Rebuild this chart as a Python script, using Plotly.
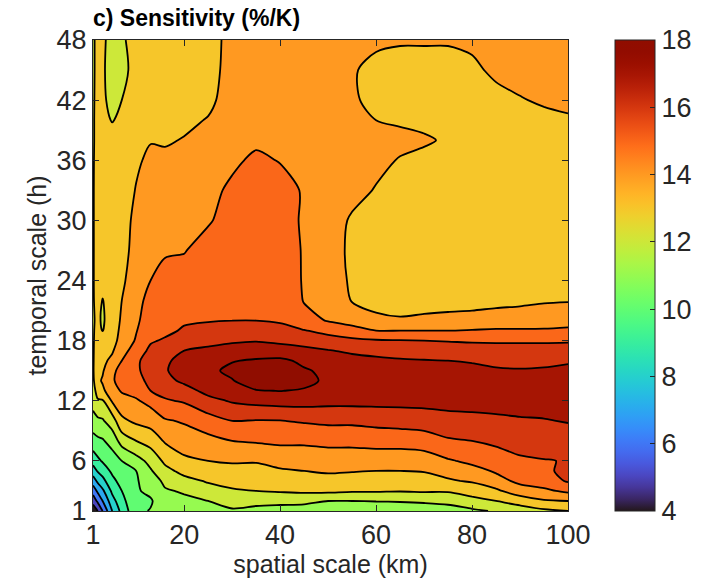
import numpy as np
import plotly.graph_objects as go

# spatial scale (km) columns and temporal scale (h) rows
spatial_km = [1, 2, 3, 5, 7, 10, 13, 16, 20, 25, 30, 35, 40, 45, 50, 55, 60, 65, 70, 75, 80, 85, 90, 95, 100]
temporal_h = [1, 2, 3, 4, 5, 6, 8, 10, 12, 13, 14, 15, 16, 17, 18, 19, 20, 22, 24, 27, 30, 33, 36, 38, 40, 42, 45, 48]

# sensitivity (%/K), one list per spatial scale (values along temporal_h)
sens_by_km = [
    [4.3, 5.4, 6.4, 7.5, 8.5, 9.4, 10.6, 11.6, 12.4, 12.6, 12.8, 12.9, 12.9, 12.9, 12.9, 12.9, 12.9, 12.9, 12.9, 12.9, 12.9, 12.9, 12.9, 12.9, 12.9, 12.9, 12.9, 12.9],
    [5.0, 6.2, 7.2, 8.2, 9.1, 9.8, 10.8, 11.8, 12.9, 13.4, 13.8, 13.7, 13.6, 13.5, 13.4, 13.3, 13.2, 13.4, 13.5, 13.5, 13.5, 13.5, 13.4, 13.3, 13.3, 13.25, 13.2, 13.2],
    [6.0, 7.0, 7.8, 8.7, 9.4, 10.1, 10.9, 11.9, 12.9, 13.8, 14.1, 13.9, 13.8, 13.6, 13.4, 12.97, 12.85, 12.95, 13.4, 13.6, 13.6, 13.6, 13.5, 13.4, 13.25, 13.15, 13.1, 13.1],
    [8.0, 8.6, 9.2, 9.7, 10.2, 10.5, 11.4, 12.5, 14.1, 14.6, 14.9, 14.8, 14.2, 13.9, 13.7, 13.6, 13.6, 13.6, 13.6, 13.7, 13.7, 13.7, 13.6, 13.4, 12.95, 12.75, 12.7, 12.8],
    [9.3, 9.7, 10.0, 10.4, 10.7, 11.0, 12.4, 13.8, 14.6, 15.1, 15.3, 15.3, 15.0, 14.6, 14.3, 14.2, 14.1, 14.0, 13.8, 13.6, 13.5, 13.5, 13.4, 13.3, 13.2, 13.0, 12.75, 12.85],
    [10.8, 10.8, 10.9, 10.9, 11.0, 11.6, 13.0, 14.2, 14.9, 15.3, 15.6, 15.8, 15.8, 15.5, 15.1, 14.95, 14.8, 14.7, 14.6, 14.4, 14.3, 14.05, 13.85, 13.6, 13.6, 13.5, 13.3, 13.4],
    [11.05, 10.9, 11.2, 11.5, 11.9, 12.3, 13.4, 14.4, 15.3, 16.0, 16.3, 16.5, 16.5, 16.2, 15.9, 15.7, 15.6, 15.3, 15.0, 14.7, 14.6, 14.5, 14.2, 13.95, 13.7, 13.6, 13.6, 13.6],
    [11.3, 11.6, 11.9, 12.2, 12.7, 13.2, 14.1, 14.9, 15.9, 16.3, 16.7, 16.9, 16.8, 16.6, 16.1, 15.8, 15.7, 15.5, 15.3, 14.9, 14.6, 14.5, 14.2, 13.9, 13.7, 13.6, 13.6, 13.6],
    [11.6, 11.8, 12.1, 12.7, 13.3, 13.8, 14.5, 15.1, 16.1, 16.6, 17.2, 17.5, 17.4, 17.0, 16.5, 16.1, 15.9, 15.7, 15.4, 14.95, 14.7, 14.6, 14.3, 14.05, 13.8, 13.7, 13.6, 13.6],
    [11.8, 12.0, 12.6, 13.1, 13.5, 14.0, 14.7, 15.6, 16.7, 17.3, 17.7, 17.8, 17.8, 17.2, 16.7, 16.3, 15.95, 15.7, 15.6, 15.4, 14.9, 14.7, 14.5, 14.3, 14.05, 13.8, 13.7, 13.75],
    [11.9, 12.3, 12.9, 13.3, 13.7, 14.1, 15.0, 16.0, 17.1, 17.6, 17.95, 18.2, 17.95, 17.3, 16.9, 16.4, 16.0, 15.8, 15.7, 15.6, 15.4, 15.2, 14.8, 14.7, 14.6, 14.4, 14.3, 14.2],
    [11.8, 12.2, 13.0, 13.3, 13.6, 14.1, 15.1, 15.95, 17.3, 17.95, 18.5, 18.7, 18.1, 17.5, 16.95, 16.5, 16.0, 15.9, 15.8, 15.7, 15.6, 15.5, 15.2, 14.8, 14.6, 14.5, 14.4, 14.3],
    [11.7, 12.2, 13.1, 13.5, 13.9, 14.3, 15.2, 15.97, 17.4, 18.02, 18.6, 18.8, 18.2, 17.4, 16.8, 16.3, 15.9, 15.8, 15.7, 15.6, 15.5, 15.4, 14.95, 14.7, 14.6, 14.5, 14.4, 14.3],
    [11.6, 12.2, 13.2, 13.6, 14.0, 14.3, 15.2, 16.1, 17.4, 17.9, 18.3, 18.1, 17.8, 17.2, 16.7, 16.05, 15.3, 14.95, 14.9, 14.9, 14.85, 14.9, 14.6, 14.6, 14.5, 14.5, 14.5, 14.4],
    [11.5, 12.0, 13.2, 13.7, 14.1, 14.4, 15.3, 16.2, 17.3, 17.6, 17.8, 17.8, 17.5, 17.05, 16.4, 15.7, 14.95, 14.7, 14.55, 14.45, 14.4, 14.45, 14.5, 14.5, 14.5, 14.5, 14.5, 14.4],
    [11.2, 12.0, 13.1, 13.6, 14.05, 14.4, 15.3, 16.2, 17.3, 17.5, 17.6, 17.5, 17.3, 16.85, 16.2, 15.4, 14.6, 13.95, 13.85, 13.8, 13.9, 14.25, 14.4, 14.5, 14.5, 14.15, 14.1, 14.3],
    [11.1, 12.05, 13.1, 13.6, 14.0, 14.4, 15.4, 16.3, 17.3, 17.5, 17.5, 17.4, 17.2, 16.7, 16.1, 15.0, 14.2, 13.7, 13.6, 13.6, 13.7, 13.95, 14.2, 14.3, 14.0, 13.7, 13.7, 14.2],
    [11.1, 12.1, 13.05, 13.6, 14.0, 14.4, 15.4, 16.4, 17.3, 17.5, 17.5, 17.4, 17.1, 16.6, 16.05, 15.0, 14.1, 13.6, 13.5, 13.5, 13.5, 13.6, 13.95, 14.2, 13.9, 13.6, 13.6, 14.1],
    [11.2, 12.2, 13.1, 13.6, 14.05, 14.5, 15.5, 16.5, 17.3, 17.5, 17.5, 17.4, 17.05, 16.5, 16.0, 15.0, 14.2, 13.6, 13.4, 13.4, 13.4, 13.5, 13.8, 14.1, 13.8, 13.6, 13.6, 14.1],
    [11.5, 12.3, 13.1, 13.9, 14.3, 14.9, 15.9, 16.6, 17.4, 17.5, 17.5, 17.4, 17.0, 16.5, 15.95, 15.0, 14.3, 13.6, 13.4, 13.3, 13.3, 13.4, 13.6, 13.9, 13.7, 13.5, 13.6, 14.1],
    [11.8, 12.7, 13.4, 14.1, 14.7, 15.2, 16.0, 16.7, 17.4, 17.5, 17.5, 17.3, 16.9, 16.4, 15.9, 15.05, 14.4, 13.6, 13.4, 13.3, 13.3, 13.3, 13.4, 13.5, 13.5, 13.5, 13.8, 14.2],
    [12.1, 13.0, 13.8, 14.7, 15.1, 15.5, 16.2, 16.8, 17.4, 17.5, 17.4, 17.1, 16.8, 16.3, 15.9, 15.1, 14.5, 13.7, 13.5, 13.4, 13.3, 13.3, 13.3, 13.4, 13.5, 13.7, 14.2, 14.3],
    [12.5, 13.4, 14.6, 15.2, 15.6, 15.85, 16.4, 16.9, 17.4, 17.4, 17.3, 17.05, 16.8, 16.3, 15.9, 15.1, 14.5, 13.8, 13.5, 13.4, 13.3, 13.3, 13.3, 13.4, 13.6, 13.95, 14.3, 14.4],
    [12.8, 13.9, 14.8, 15.5, 15.85, 15.95, 16.5, 16.95, 17.4, 17.4, 17.3, 17.1, 16.8, 16.3, 15.9, 15.1, 14.6, 13.9, 13.6, 13.4, 13.3, 13.3, 13.4, 13.5, 13.8, 14.1, 14.4, 14.5],
    [13.0, 14.0, 15.2, 16.1, 16.2, 16.05, 16.6, 17.05, 17.4, 17.4, 17.3, 17.2, 16.9, 16.4, 15.9, 15.2, 14.6, 13.95, 13.7, 13.5, 13.4, 13.5, 13.7, 13.7, 13.9, 14.2, 14.4, 14.5],
]

x_ticks = [1, 20, 40, 60, 80, 100]
y_ticks = [1, 6, 12, 18, 24, 30, 36, 42, 48]
cbar_ticks = [4, 6, 8, 10, 12, 14, 16, 18]
level_start, level_end, level_step = 4, 18, 1


def turbo(t):
    t = min(max(t, 0.0), 1.0)
    r = 0.13572138 + t*(4.61539260 + t*(-42.66032258 + t*(132.13108234 + t*(-152.94239396 + t*59.28637943))))
    g = 0.09140261 + t*(2.19418839 + t*(4.84296658 + t*(-14.18503333 + t*(4.27729857 + t*2.82956604))))
    b = 0.10667330 + t*(12.64194608 + t*(-60.58204836 + t*(110.36276771 + t*(-89.90310912 + t*27.34824973))))
    c = [int(round(255 * min(max(v, 0.0), 1.0))) for v in (r, g, b)]
    return "rgb(%d,%d,%d)" % tuple(c)


z = np.array(sens_by_km).T

# discrete fill colours: each band coloured by its lower level (as in MATLAB contourf)
n_levels = int((level_end - level_start) / level_step) + 1
span = level_end - level_start
band_scale = [[0.0, turbo(0.0)]]
for k in range(1, n_levels + 1):
    lower = level_start + (k - 1) * level_step
    band_scale.append([k / n_levels, turbo((lower - level_start) / span)])

cont_scale = [[i / 40, turbo(i / 40)] for i in range(41)]

font_fam = "Arial, Liberation Sans, Helvetica, sans-serif"
txt = "#262626"

fig = go.Figure()
fig.add_trace(go.Contour(
    x=spatial_km, y=temporal_h, z=z,
    autocontour=False,
    contours=dict(start=level_start, end=level_end, size=level_step, coloring="fill", showlines=True),
    colorscale=band_scale,
    line=dict(color="black", width=1.8, smoothing=0.8),
    showscale=False,
    hoverinfo="skip",
))
fig.add_trace(go.Scatter(
    x=[None], y=[None], mode="markers", showlegend=False,
    marker=dict(color=[level_start], colorscale=cont_scale, cmin=level_start, cmax=level_end,
                showscale=True,
                colorbar=dict(x=1.099, xanchor="left", xref="paper", y=0.5, yanchor="middle",
                              len=1.0, lenmode="fraction", thickness=40,
                              outlinewidth=1, outlinecolor=txt,
                              tickvals=cbar_ticks, ticks="inside", ticklen=5, tickcolor=txt,
                              tickfont=dict(size=27, color=txt, family=font_fam),
                              ypad=0, xpad=0)),
))

axis_common = dict(showline=True, linecolor=txt, linewidth=1, mirror="ticks", ticks="inside",
                   ticklen=6, tickcolor=txt, showgrid=False, zeroline=False, automargin=False,
                   tickfont=dict(size=27, color=txt, family=font_fam))
fig.update_xaxes(range=[1, 100], tickvals=x_ticks,
                 title=dict(text="spatial scale (km)", font=dict(size=25, color=txt, family=font_fam), standoff=0),
                 **axis_common)
fig.update_yaxes(range=[1, 48], tickvals=y_ticks,
                 title=dict(text="temporal scale (h)", font=dict(size=25, color=txt, family=font_fam), standoff=2),
                 **axis_common)

fig.update_layout(
    width=715, height=578,
    margin=dict(l=93, r=147, t=40, b=67),
    paper_bgcolor="white", plot_bgcolor="white",
    title=dict(text="<b>c) Sensitivity (%/K)</b>", x=93 / 715, xanchor="left", y=0.969, yanchor="middle",
               font=dict(size=23, color="black", family=font_fam)),
    showlegend=False,
)

fig.write_html("out.html", config={"displayModeBar": False},
               post_script="document.body.style.margin='0px';document.body.style.padding='0px';")
